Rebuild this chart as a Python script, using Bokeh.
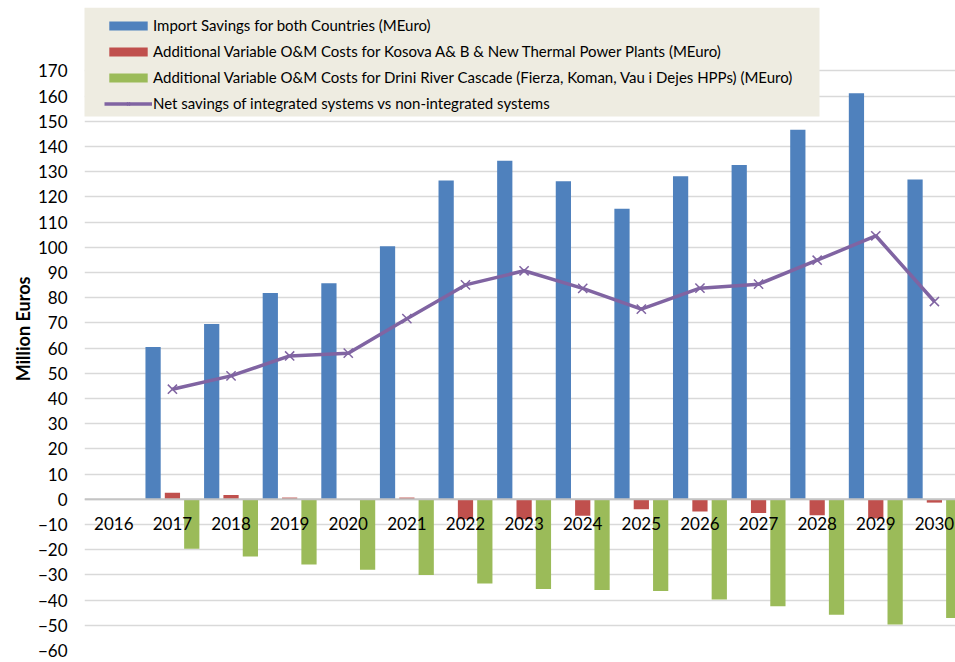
from bokeh.plotting import figure
from bokeh.models import (Range1d, Legend, LegendItem, BoxAnnotation, Span,
                          ColumnDataSource, FixedTicker)
from bokeh.transform import dodge
from bokeh.core.properties import value
from bokeh.embed import file_html
from bokeh.resources import INLINE

nan = float("nan")

years = ["2016", "2017", "2018", "2019", "2020", "2021", "2022", "2023",
         "2024", "2025", "2026", "2027", "2028", "2029", "2030"]
import_savings = [nan, 60.5, 69.6, 81.9, 85.8, 100.4, 126.5, 134.4,
                  126.2, 115.3, 128.2, 132.7, 146.7, 161.2, 126.9]
om_kosova = [nan, 2.6, 1.7, 0.7, 0.0, 0.7, -7.9, -7.9,
             -6.5, -3.9, -4.8, -5.4, -6.3, -7.6, -1.3]
om_drini = [nan, -19.6, -22.7, -25.9, -28.0, -30.0, -33.4, -35.6,
            -36.0, -36.4, -39.8, -42.4, -45.8, -49.7, -47.1]
net_savings = [nan, 43.7, 49.0, 56.9, 58.0, 71.7, 85.1, 90.7,
               83.7, 75.5, 83.8, 85.4, 94.9, 104.6, 78.5]
y_ticks = list(range(-60, 171, 10))

labels = ["Import Savings for both Countries (MEuro)",
          "Additional Variable O&M Costs for Kosova A& B & New Thermal Power Plants (MEuro)",
          "Additional Variable O&M Costs for Drini River Cascade (Fierza, Koman, Vau i Dejes HPPs) (MEuro)",
          "Net savings of integrated systems vs non-integrated systems"]

BLUE, RED, GREEN, PURPLE = "#4f81bd", "#c0504d", "#9bbb59", "#8064a2"
FONT = "Lato"

idx = list(range(len(years)))
src = ColumnDataSource(dict(x=idx, imp=import_savings, kos=om_kosova,
                            dri=om_drini, net=net_savings))

# frame extends to the top so the legend (which overlaps the plot area) is not clipped
p = figure(width=955, height=662,
           x_range=Range1d(-0.5, 14.36), y_range=Range1d(y_ticks[0], 195.2),
           x_axis_location=None, output_backend="svg", toolbar_location=None,
           min_border_left=84, min_border_right=0, min_border_top=7,
           min_border_bottom=12)
p.outline_line_color = None
p.background_fill_color = "white"
p.border_fill_color = "white"

p.xgrid.visible = False
p.ygrid.grid_line_color = "#d9d9d9"
p.ygrid.grid_line_width = 1.3
p.ygrid.ticker = FixedTicker(ticks=y_ticks)

ax = p.yaxis[0]
ax.ticker = FixedTicker(ticks=y_ticks)
ax.axis_line_color = None
ax.major_tick_line_color = None
ax.minor_tick_line_color = None
ax.major_tick_out = 0
ax.major_tick_in = 0
ax.major_label_standoff = 17
ax.major_label_text_font = FONT
ax.major_label_text_font_size = "17px"
ax.major_label_text_color = "black"
ax.axis_label = "Million Euros"
ax.axis_label_text_font = FONT
ax.axis_label_text_font_style = "bold"
ax.axis_label_text_font_size = "18px"
ax.axis_label_text_color = "black"
ax.axis_label_standoff = 1

bw = 0.26
r_imp = p.vbar(x=dodge("x", -0.33), top="imp", bottom=0, width=bw, source=src,
               fill_color=BLUE, line_color=None)
r_kos = p.vbar(x="x", top="kos", bottom=0, width=bw, source=src,
               fill_color=RED, line_color=None)
r_dri = p.vbar(x=dodge("x", 0.33), top="dri", bottom=0, width=bw, source=src,
               fill_color=GREEN, line_color=None)

p.add_layout(Span(location=0, dimension="width", line_color="#c4c4c4", line_width=2))

r_line = p.line(x="x", y="net", source=src, line_color=PURPLE, line_width=3.5)
r_mark = p.scatter(x="x", y="net", source=src, marker="x", size=13,
                   line_color=PURPLE, line_width=1.5)

p.text(x=idx, y=[-9.6] * len(idx), text=years, text_align="center",
       text_baseline="middle", text_font=value(FONT), text_font_size="17px",
       text_color="black")

p.add_layout(BoxAnnotation(left=77, right=819, top=7, bottom=116,
                           left_units="canvas", right_units="canvas",
                           top_units="canvas", bottom_units="canvas",
                           fill_color="#eeece1", fill_alpha=1, line_color=None))

legend = Legend(items=[LegendItem(label=labels[0], renderers=[r_imp]),
                       LegendItem(label=labels[1], renderers=[r_kos]),
                       LegendItem(label=labels[2], renderers=[r_dri]),
                       LegendItem(label=labels[3], renderers=[r_line, r_mark])],
                location=(20, 538), orientation="vertical",
                background_fill_color="#eeece1", background_fill_alpha=1,
                border_line_color=None, padding=4, spacing=8, margin=0,
                label_height=18, glyph_height=11, glyph_width=48,
                label_standoff=1, label_text_font=FONT,
                label_text_font_size="15px", label_text_color="black")
p.add_layout(legend)

open("out.html", "w").write(file_html(p, INLINE))
